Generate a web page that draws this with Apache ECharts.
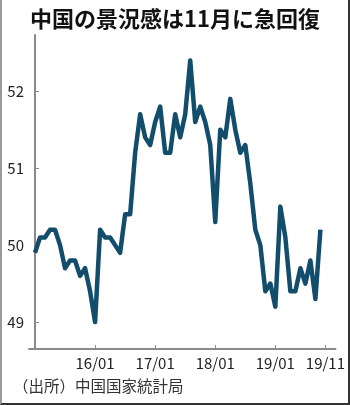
<!DOCTYPE html>
<html>
<head>
<meta charset="utf-8">
<script src="https://cdn.jsdelivr.net/npm/echarts@6/dist/echarts.min.js"></script>
<style>
  html, body { margin: 0; padding: 0; background: #fff; }
  #main { width: 350px; height: 405px; box-sizing: border-box;
          border-left: 2px solid #9a9a9a; border-right: 2px solid #333; border-bottom: 2px solid #333; }
</style>
</head>
<body>
<div id="main"></div>
<script>
"use strict";

// monthly PMI, 2015/01 .. 2019/11
var pmi = [
    49.9, 50.1, 50.1, 50.2, 50.2, 50.0, 49.7, 49.8, 49.8, 49.6, 49.7, 49.4,
    49.0, 50.2, 50.1, 50.1, 50.0, 49.9, 50.4, 50.4, 51.2, 51.7, 51.4, 51.3,
    51.6, 51.8, 51.2, 51.2, 51.7, 51.4, 51.7, 52.4, 51.6, 51.8, 51.6, 51.3,
    50.3, 51.5, 51.4, 51.9, 51.5, 51.2, 51.3, 50.8, 50.2, 50.0, 49.4, 49.5,
    49.2, 50.5, 50.1, 49.4, 49.4, 49.7, 49.5, 49.8, 49.3, 50.2
];
// month index 0 = 2015/01
var tickPos = [12, 24, 36, 48, 58];
var tickLabels = ['16/01', '17/01', '18/01', '19/01', '19/11'];
var yTicks = [49, 50, 51, 52];

var seriesData = [];
for (var i = 0; i < pmi.length; i++) {
    seriesData.push([i, pmi[i]]);
}

var myChart = echarts.init(document.getElementById('main'));
var font = '"Noto Sans CJK JP", "Noto Sans", sans-serif';

var option = {
    animation: false,
    title: {
        text: '中国の景況感は11月に急回復',
        left: 'center',
        top: 3,
        textStyle: { fontFamily: font, fontSize: 22, fontWeight: 'bold', color: '#111' }
    },
    graphic: [{
        type: 'text',
        left: 11,
        top: 378,
        style: { text: '（出所）中国国家統計局', font: '15.5px ' + font, fill: '#333' }
    }],
    grid: { left: 27, right: 8, top: 35, bottom: 54 },
    xAxis: {
        type: 'value',
        min: -1.2,
        max: 60,
        splitLine: { show: false },
        axisLine: { lineStyle: { color: '#8a8a8a', width: 2 } },
        axisTick: { inside: true, length: 4, customValues: tickPos, lineStyle: { color: '#8a8a8a' } },
        axisLabel: {
            customValues: tickPos,
            margin: 7,
            fontFamily: font, fontSize: 15, color: '#222',
            formatter: function (v) { return tickLabels[tickPos.indexOf(v)]; }
        }
    },
    yAxis: {
        type: 'value',
        min: 48.65,
        max: 52.73,
        splitLine: { show: false },
        axisLine: { show: true, lineStyle: { color: '#8a8a8a', width: 2 } },
        axisTick: { show: true, inside: true, length: 4, customValues: yTicks, lineStyle: { color: '#8a8a8a' } },
        axisLabel: { customValues: yTicks, margin: 5, fontFamily: font, fontSize: 15, color: '#222' }
    },
    series: [{
        type: 'line',
        data: seriesData,
        showSymbol: false,
        lineStyle: { color: '#134d6c', width: 4.5, join: 'round' }
    }]
};
myChart.setOption(option);
</script>
</body>
</html>
